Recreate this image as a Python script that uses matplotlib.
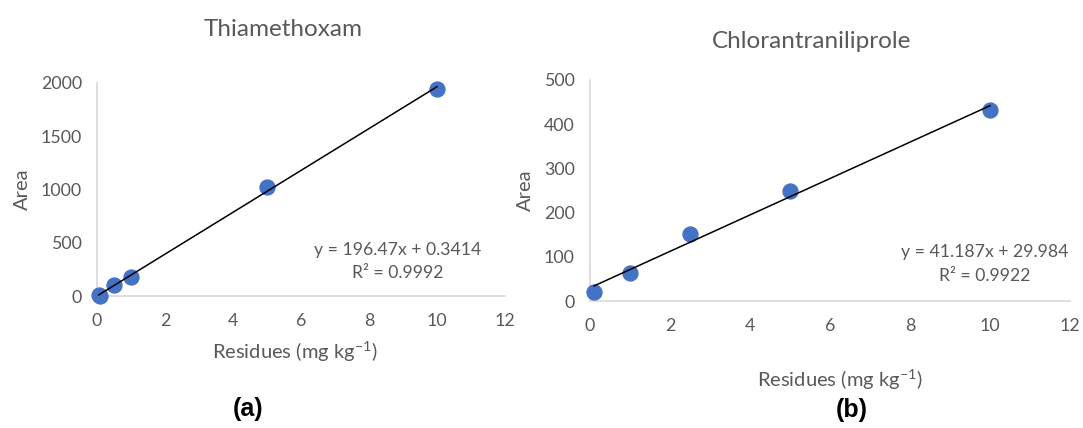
import numpy as np
import matplotlib
matplotlib.use("Agg")
import matplotlib.pyplot as plt

plt.rcParams["font.family"] = ["Lato", "DejaVu Sans"]
plt.rcParams["mathtext.fontset"] = "custom"
plt.rcParams["mathtext.rm"] = "Lato"
plt.rcParams["mathtext.it"] = "Lato:italic"

# ---- data ----
thia_x = [0.05, 0.1, 0.5, 1, 5, 10]
thia_y = [5, 3, 100, 180, 1020, 1945]
thia_slope, thia_icpt, thia_r2 = 196.47, 0.3414, 0.9992

chlor_x = [0.1, 1, 2.5, 5, 10]
chlor_y = [20, 63, 152, 248, 432]
chlor_slope, chlor_icpt, chlor_r2 = 41.187, 29.984, 0.9922

TEXT = "#595959"
AXIS = "#d9d9d9"
DOT = "#4472C4"

fig = plt.figure(figsize=(10.83, 4.28), dpi=100)
ax_a = fig.add_axes([0.0896, 0.3084, 0.3767, 0.4977])
ax_b = fig.add_axes([0.5448, 0.2967, 0.4432, 0.5164])


def draw(ax, xs, ys, slope, icpt, r2, ylim, ystep, title, title_x, eq_x, eq_y, title_pad):
    ax.scatter(xs, ys, s=115, color=DOT, zorder=3, clip_on=False)
    fx = np.array([min(xs), max(xs)])
    ax.plot(fx, slope * fx + icpt, color="black", lw=1.1, zorder=4)
    ax.set_xlim(0, 12)
    ax.set_ylim(0, ylim)
    ax.set_xticks(range(0, 13, 2))
    ax.set_yticks(np.arange(0, ylim + 1, ystep))
    for s in ["top", "right"]:
        ax.spines[s].set_visible(False)
    for s in ["left", "bottom"]:
        ax.spines[s].set_color(AXIS)
        ax.spines[s].set_linewidth(1.2)
    ax.tick_params(length=0, labelsize=12.8, labelcolor=TEXT)
    ax.tick_params(axis="x", pad=12)
    ax.tick_params(axis="y", pad=11)
    ax.set_ylabel("Area", fontsize=14.5, color=TEXT, labelpad=7)
    ax.set_title(title, fontsize=17.5, color=TEXT, pad=title_pad, x=title_x)
    ax.text(eq_x, eq_y[0], f"y = {slope}x + {icpt}", transform=ax.transAxes,
            ha="center", va="center", fontsize=12.7, color=TEXT)
    ax.text(eq_x, eq_y[1], f"R² = {r2}", transform=ax.transAxes,
            ha="center", va="center", fontsize=12.7, color=TEXT)


draw(ax_a, thia_x, thia_y, thia_slope, thia_icpt, thia_r2, 2000, 500,
     "Thiamethoxam", 0.456, 0.738, (0.216, 0.108), 34)
draw(ax_b, chlor_x, chlor_y, chlor_slope, chlor_icpt, chlor_r2, 500, 100,
     "Chlorantraniliprole", 0.4625, 0.823, (0.222, 0.113), 23)

fig.text(295 / 1083, 1 - 352 / 428, r"Residues (mg kg$^{\mathregular{-1}}$)",
         ha="center", va="center", fontsize=14.5, color=TEXT)
fig.text(840 / 1083, 1 - 380 / 428, r"Residues (mg kg$^{\mathregular{-1}}$)",
         ha="center", va="center", fontsize=14.5, color=TEXT)
fig.text(248 / 1083, 1 - 409 / 428, "(a)", ha="center", va="center",
         fontsize=18, fontweight="bold", color="black",
         family=["Liberation Sans", "DejaVu Sans"])
fig.text(852 / 1083, 1 - 410 / 428, "(b)", ha="center", va="center",
         fontsize=18, fontweight="bold", color="black",
         family=["Liberation Sans", "DejaVu Sans"])

fig.savefig("out.png", dpi=100, facecolor="white")
